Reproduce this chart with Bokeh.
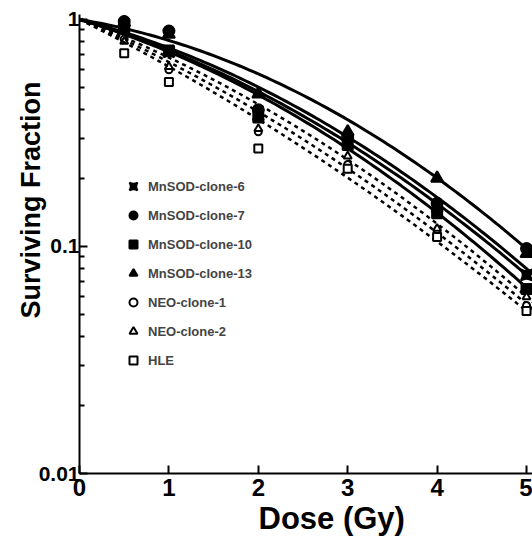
import numpy as np
from bokeh.plotting import figure
from bokeh.models import FixedTicker, CustomJSTickFormatter, Legend, LegendItem, Range1d, Title
from bokeh.embed import file_html
from bokeh.resources import INLINE

# ---- data ----
dose = [0.5, 1, 2, 3, 4, 5]
mnsod6 = [0.95, 0.72, 0.38, 0.29, 0.15, 0.075]
mnsod7 = [0.98, 0.89, 0.40, 0.30, 0.155, 0.098]
mnsod10 = [0.92, 0.73, 0.37, 0.28, 0.14, 0.065]
mnsod13 = [0.97, 0.86, 0.47, 0.32, 0.20, 0.093]
neo1 = [0.82, 0.60, 0.32, 0.23, 0.115, 0.055]
neo2 = [0.80, 0.62, 0.33, 0.25, 0.12, 0.060]
hle = [0.71, 0.53, 0.27, 0.22, 0.11, 0.052]

# linear-quadratic fit parameters (S = exp(-aD - bD^2))
lq_alpha = [0.264, 0.150, 0.275, 0.234, 0.395, 0.342, 0.450]
lq_beta = [0.0508, 0.063, 0.0538, 0.0543, 0.0364, 0.044, 0.0283]

labels = ["MnSOD-clone-6", "MnSOD-clone-7", "MnSOD-clone-10", "MnSOD-clone-13",
          "NEO-clone-1", "NEO-clone-2", "HLE"]
series = [mnsod6, mnsod7, mnsod10, mnsod13, neo1, neo2, hle]
markers = ["square_pin", "circle", "square", "triangle", "circle", "triangle", "square"]
filled = [True, True, True, True, False, False, False]
sizes = [11, 11, 10, 12, 7, 8, 8]

x_ticks = [0, 1, 2, 3, 4, 5]
y_ticks = [0.01, 0.1, 1]

FONT = "Liberation Sans"

p = figure(width=532, height=542, x_range=Range1d(0, 5.067), y_range=Range1d(0.01, 1.052),
           y_axis_type="log", output_backend="svg", toolbar_location=None,
           min_border_left=79, min_border_right=0, min_border_top=14, min_border_bottom=69)
p.outline_line_color = None
p.grid.visible = False
p.background_fill_color = "white"

grid = np.linspace(0, 5.1, 103)

items = []
for lab, s, m, f, sz, a, b in zip(labels, series, markers, filled, sizes, lq_alpha, lq_beta):
    curve = np.exp(-(a * grid + b * grid ** 2))
    if f:
        p.line(grid, curve, line_color="black", line_width=3)
    else:
        p.line(grid, curve, line_color="black", line_width=2.5, line_dash="4 4")
    fc = "black" if f else "white"
    r = p.scatter(dose, s, marker=m, size=sz, line_color="black", line_width=2, fill_color=fc)
    items.append(LegendItem(label=lab, renderers=[r]))

legend = Legend(items=items, location=(44, 103), orientation="vertical",
                glyph_width=20, glyph_height=20, label_height=20, spacing=9,
                padding=0, margin=0, label_standoff=5,
                border_line_alpha=0, background_fill_alpha=0,
                label_text_font=FONT, label_text_font_size="13px",
                label_text_font_style="bold")
p.add_layout(legend)

for ax in (p.xaxis[0], p.yaxis[0]):
    ax.axis_line_width = 2
    ax.major_tick_line_width = 2
    ax.minor_tick_line_width = 2
    ax.major_tick_in = 8
    ax.major_tick_out = 0
    ax.major_label_text_font = FONT
    ax.major_label_text_font_style = "bold"
    ax.major_label_text_color = "black"

p.xaxis.ticker = FixedTicker(ticks=x_ticks, minor_ticks=[])
p.xaxis.minor_tick_in = 0
p.xaxis.minor_tick_out = 0
p.xaxis.major_label_standoff = 5
p.xaxis.major_label_text_font_size = "24px"

minor = [k * 10.0 ** e for e in (-2, -1) for k in range(2, 10)]
p.yaxis.ticker = FixedTicker(ticks=y_ticks, minor_ticks=minor)
p.yaxis.formatter = CustomJSTickFormatter(code="return String(tick);")
p.yaxis.minor_tick_in = 5
p.yaxis.minor_tick_out = 0
p.yaxis.major_label_standoff = 0
p.yaxis.major_label_text_font_size = "21px"

# axis titles as side titles, so they can be shifted like in the reference
p.add_layout(Title(text="Dose (Gy)", align="left", offset=179, standoff=0,
                   text_font=FONT, text_font_style="bold", text_font_size="31px",
                   text_color="black"), "below")
p.add_layout(Title(text="Surviving Fraction", align="left", offset=155, standoff=-20,
                   text_font=FONT, text_font_style="bold", text_font_size="27px",
                   text_color="black"), "left")

open("out.html", "w").write(file_html(p, INLINE))
